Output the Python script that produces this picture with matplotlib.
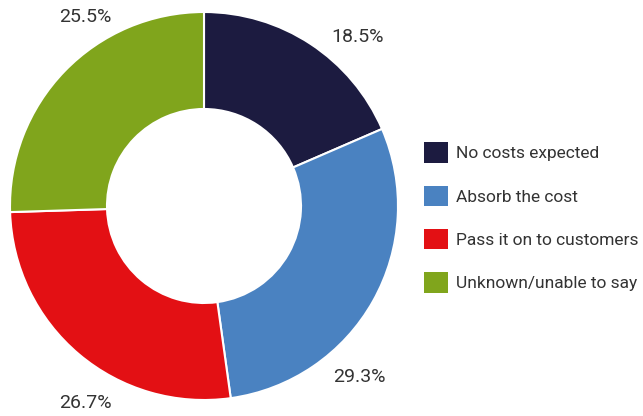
import matplotlib.pyplot as plt
from matplotlib.patches import Patch

categories = ['No costs expected', 'Absorb the cost', 'Pass it on to customers', 'Unknown/unable to say']
shares = [18.5, 29.3, 26.7, 25.5]
colors = ['#1c1b40', '#4a82c1', '#e31014', '#80a51c']
# where each percentage sits around the ring (data coords)
label_pos = [(0.79, 0.87), (0.80, -0.88), (-0.61, -1.015), (-0.61, 0.975)]

plt.rcParams['font.family'] = ['Roboto', 'DejaVu Sans']

fig = plt.figure(figsize=(6.43, 4.16), dpi=100)
ax = fig.add_axes([10 / 643, 16 / 416, 388 / 643, 388 / 416])

ax.pie(shares, colors=colors, startangle=90, counterclock=False, radius=1,
       wedgeprops=dict(width=0.5, edgecolor='white', linewidth=1.5))
ax.set_xlim(-1, 1)
ax.set_ylim(-1, 1)
ax.set_aspect('equal')
ax.axis('off')

for v, (x, y) in zip(shares, label_pos):
    ax.text(x, y, f'{v}%', ha='center', va='center', fontsize=14, color='#333333',
            clip_on=False)

handles = [Patch(facecolor=c, edgecolor='none') for c in colors]
fig.legend(handles, categories, loc='center left', bbox_to_anchor=(408 / 643, 0.477),
           frameon=False, fontsize=12.5, handlelength=1.42, handleheight=1.42,
           handletextpad=0.45, labelspacing=1.33, labelcolor='#333333')

fig.savefig('out.png', dpi=100)
